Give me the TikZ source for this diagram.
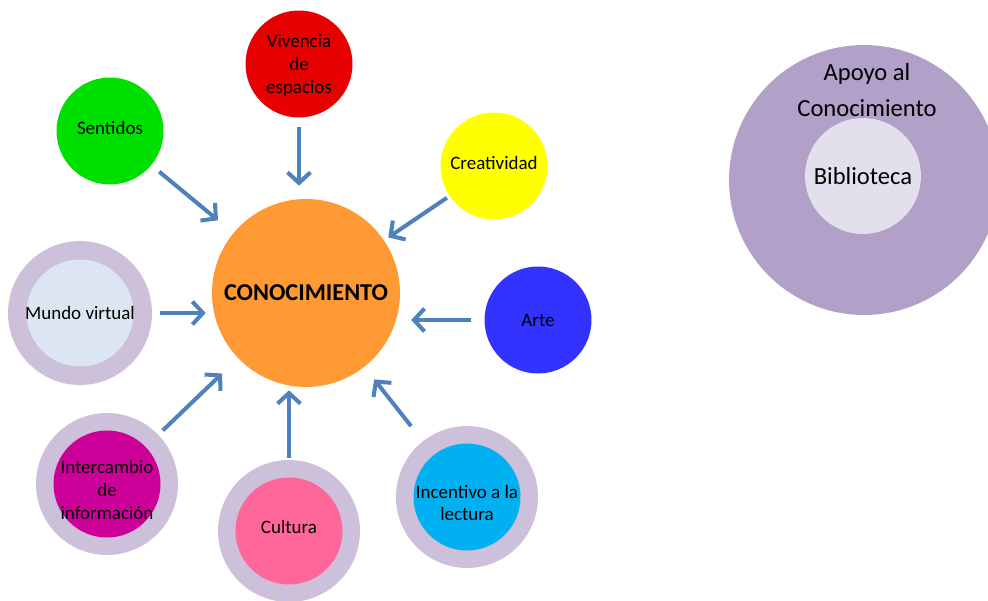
\documentclass[tikz,border=0pt]{standalone}
\usepackage{fontspec}
\setmainfont{Carlito}
\usetikzlibrary{arrows.meta}
\definecolor{verde}{HTML}{00E000}
\definecolor{rojo}{HTML}{E60000}
\definecolor{amarillo}{HTML}{FFFF00}
\definecolor{naranja}{HTML}{FF9933}
\definecolor{azul}{HTML}{3333FF}
\definecolor{lila}{HTML}{CCC0DA}
\definecolor{celeste}{HTML}{DCE6F2}
\definecolor{magenta}{HTML}{CC0099}
\definecolor{rosa}{HTML}{FF6699}
\definecolor{cian}{HTML}{00B0F0}
\definecolor{lilaoscuro}{HTML}{B1A0C7}
\definecolor{lilaclaro}{HTML}{E4DFEC}
\definecolor{flechaazul}{HTML}{4F81BD}

\begin{document}
\begin{tikzpicture}[x=0.02cm,y=-0.02cm,
    bubble/.style={circle,minimum size=2.14cm,inner sep=0pt},
    txt/.style={align=center,inner sep=0pt,font=\fontsize{10.8}{13}\selectfont},
    ring/.style={circle,fill=lila,minimum size=2.84cm,inner sep=0pt},
    flecha/.style={draw=flechaazul,line width=2.3pt,-{Straight Barb[length=6pt,width=13pt]}}]
    \useasboundingbox (0,0) rectangle (988,601);
    \node[circle,fill=naranja,minimum size=3.76cm,inner sep=0pt,font=\fontsize{13.8}{16}\selectfont\bfseries] (cono) at (306,293) {CONOCIMIENTO};
    \node[bubble,fill=verde,label={[txt,name=senttxt,yshift=1.5pt]center:Sentidos}] (sent) at (110,131) {};
    \node[bubble,fill=rojo,label={[txt,name=vivtxt,yshift=-1pt]center:Vivencia\\de\\espacios}] (viv) at (299,64) {};
    \node[bubble,fill=amarillo,label={[txt,name=creatxt,yshift=1.5pt]center:Creatividad}] (crea) at (494,166) {};
    \node[bubble,fill=azul,label={[txt,name=artetxt]center:Arte}] (arte) at (538,320) {};
    \node[ring,minimum size=2.88cm] (mundoring) at (80,313) {};
    \node[bubble,fill=celeste,label={[txt,name=mundotxt]center:Mundo virtual}] (mundo) at (mundoring) {};
    \node[ring] (interring) at (107,484) {};
    \node[bubble,fill=magenta,label={[txt,name=intertxt,yshift=-3.4pt]center:Intercambio\\de\\información}] (inter) at (interring) {};
    \node[ring] (cultring) at (289,531) {};
    \node[bubble,fill=rosa,label={[txt,name=culttxt,yshift=2.3pt]center:Cultura}] (cultura) at (cultring) {};
    \node[ring] (incring) at (467,497) {};
    \node[bubble,fill=cian,label={[txt,name=incenttxt,yshift=-3.4pt]center:Incentivo a la\\lectura}] (incent) at (incring) {};

    \foreach \a/\b/\s/\e in {sent/cono/5.7/11.3, crea/cono/1.7/2.8, interring/cono/3.4/12.5, incring/cono/10.8/9}
        \draw[flecha,shorten <=\s pt,shorten >=\e pt] (\a) -- (\b);
    \draw[flecha,shorten <=5pt,shorten >=7.4pt] (viv) -- (viv |- cono.north);
    \draw[flecha,shorten <=4.5pt,shorten >=3.4pt] (mundoring) -- (mundoring -| cono.west);
    \draw[flecha,shorten <=7.4pt,shorten >=6.2pt] (arte) -- (arte -| cono.east);
    \draw[flecha,shorten <=1.1pt,shorten >=1.7pt] (cultring) -- (cultring |- cono.south);

    \node[circle,fill=lilaoscuro,minimum size=5.4cm,inner sep=0pt] (apoyo) at (864,180) {};
    \node[align=center,font=\fontsize{14}{20.5}\selectfont] (apoyotxt) at (867,90) {Apoyo al\\Conocimiento};
    \node[circle,fill=lilaclaro,minimum size=2.32cm,inner sep=0pt,font=\fontsize{14}{17}\selectfont] (biblio) at (863,176) {Biblioteca};
\end{tikzpicture}
\end{document}
